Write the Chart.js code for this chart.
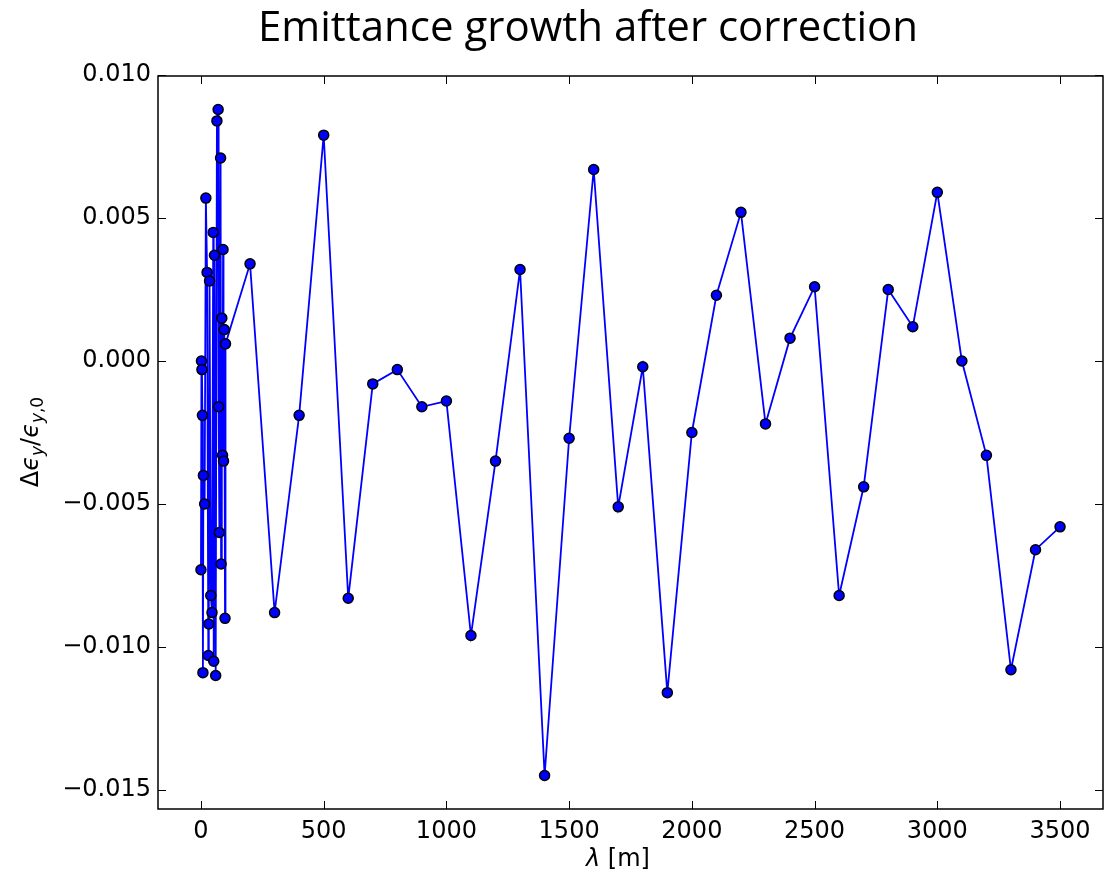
<!DOCTYPE html>
<html>
<head>
<meta charset="utf-8">
<script src="https://cdn.jsdelivr.net/npm/chart.js@4/dist/chart.umd.min.js"></script>
<style>
  body { margin: 0; background: #fff; }
  canvas { display: block; }
</style>
</head>
<body>
<canvas id="chart" width="1115" height="876"></canvas>
<script>
// wavelength lambda [m]
const lambdaVals = [
  0, 2, 4, 6, 8, 10, 15, 20, 25, 30, 32, 35, 40, 45, 50, 52, 55, 60, 65, 70,
  72, 75, 80, 82, 85, 88, 90, 92, 95, 98, 100,
  200, 300, 400, 500, 600, 700, 800, 900, 1000, 1100, 1200, 1300, 1400, 1500,
  1600, 1700, 1800, 1900, 2000, 2100, 2200, 2300, 2400, 2500, 2600, 2700,
  2800, 2900, 3000, 3100, 3200, 3300, 3400, 3500
];
// relative emittance growth
const growthVals = [
  -0.0073, 0.0000, -0.0003, -0.0019, -0.0109, -0.0040, -0.0050, 0.0057, 0.0031,
  -0.0103, -0.0092, 0.0028, -0.0082, -0.0088, 0.0045, -0.0105, 0.0037, -0.0110,
  0.0084, 0.0088, -0.0016, -0.0060, 0.0071, -0.0071, 0.0015, -0.0033, 0.0039,
  -0.0035, 0.0011, -0.0090, 0.0006,
  0.0034, -0.0088, -0.0019, 0.0079, -0.0083, -0.0008, -0.0003, -0.0016, -0.0014,
  -0.0096, -0.0035, 0.0032, -0.0145, -0.0027, 0.0067, -0.0051, -0.0002, -0.0116,
  -0.0025, 0.0023, 0.0052, -0.0022, 0.0008, 0.0026, -0.0082, -0.0044, 0.0025,
  0.0012, 0.0059, 0.0000, -0.0033, -0.0108, -0.0066, -0.0058
];
const xTicks = [0, 500, 1000, 1500, 2000, 2500, 3000, 3500];
const yTicks = [-0.015, -0.010, -0.005, 0.000, 0.005, 0.010];

const points = lambdaVals.map((x, i) => ({x: x, y: growthVals[i]}));

const tickFont = {family: 'DejaVu Sans', size: 24};

// frame, inward ticks on all four sides, and the texts
const decor = {
  id: 'decor',
  afterDraw(chart) {
    const ctx = chart.ctx;
    const a = chart.chartArea;
    const xs = chart.scales.x, ys = chart.scales.y;
    const tl = 8;
    ctx.save();
    ctx.strokeStyle = '#000';
    ctx.lineWidth = 1;
    ctx.beginPath();
    xTicks.forEach(v => {
      const px = Math.round(xs.getPixelForValue(v)) + 0.5;
      ctx.moveTo(px, a.bottom); ctx.lineTo(px, a.bottom - tl);
      ctx.moveTo(px, a.top); ctx.lineTo(px, a.top + tl);
    });
    yTicks.forEach(v => {
      const py = Math.round(ys.getPixelForValue(v)) + 0.5;
      ctx.moveTo(a.left, py); ctx.lineTo(a.left + tl, py);
      ctx.moveTo(a.right, py); ctx.lineTo(a.right - tl, py);
    });
    ctx.stroke();
    ctx.lineWidth = 1.5;
    ctx.strokeRect(a.left, a.top, a.right - a.left, a.bottom - a.top);

    ctx.fillStyle = '#000';
    // title
    ctx.font = '42px "Open Sans", sans-serif';
    ctx.textAlign = 'center';
    ctx.textBaseline = 'alphabetic';
    ctx.fillText('Emittance growth after correction', 588, 41);

    // x axis title
    const xParts = [
      {t: 'λ', f: 'italic 24px "DejaVu Sans"', dy: 0},
      {t: ' [m]', f: '24px "DejaVu Sans"', dy: 0}
    ];
    drawParts(ctx, xParts, 618, 866);

    // y axis title
    ctx.translate(38, 442);
    ctx.rotate(-Math.PI / 2);
    const yParts = [
      {t: 'Δ', f: '24px "DejaVu Sans"', dy: 0},
      {t: 'ϵ', f: 'italic 24px "DejaVu Sans"', dy: 0},
      {t: 'y', f: 'italic 17px "DejaVu Sans"', dy: 5},
      {t: '/', f: '24px "DejaVu Sans"', dy: 0},
      {t: 'ϵ', f: 'italic 24px "DejaVu Sans"', dy: 0},
      {t: 'y', f: 'italic 17px "DejaVu Sans"', dy: 5},
      {t: ',0', f: '17px "DejaVu Sans"', dy: 5}
    ];
    drawParts(ctx, yParts, 0, 0);
    ctx.restore();
  }
};

function drawParts(ctx, parts, cx, by) {
  let w = 0;
  parts.forEach(p => { ctx.font = p.f; w += ctx.measureText(p.t).width; });
  let x = cx - w / 2;
  ctx.textAlign = 'left';
  ctx.textBaseline = 'alphabetic';
  parts.forEach(p => {
    ctx.font = p.f;
    ctx.fillText(p.t, x, by + p.dy);
    x += ctx.measureText(p.t).width;
  });
}

new Chart(document.getElementById('chart'), {
  type: 'scatter',
  data: {
    datasets: [{
      data: points,
      showLine: true,
      borderColor: '#0000ff',
      borderWidth: 1.8,
      pointRadius: 5,
      pointBorderWidth: 1.5,
      pointBorderColor: '#000',
      pointBackgroundColor: '#0000ff',
      lineTension: 0
    }]
  },
  options: {
    responsive: false,
    animation: false,
    layout: {padding: {top: 76, right: 12, left: 0, bottom: 0}},
    plugins: {
      legend: {display: false},
      title: {display: false},
      tooltip: {enabled: false}
    },
    scales: {
      x: {
        type: 'linear',
        min: -175,
        max: 3675,
        afterBuildTicks: s => { s.ticks = xTicks.map(v => ({value: v})); },
        afterFit: s => { s.height = 67; },
        grid: {display: false, drawTicks: false},
        border: {display: false},
        ticks: {font: tickFont, color: '#000', padding: 8, maxRotation: 0, autoSkip: false,
                callback: v => String(v)}
      },
      y: {
        type: 'linear',
        min: -0.01567,
        max: 0.00997,
        afterBuildTicks: s => { s.ticks = yTicks.map(v => ({value: v})); },
        afterFit: s => { s.width = 158; },
        grid: {display: false, drawTicks: false},
        border: {display: false},
        ticks: {font: tickFont, color: '#000', padding: 7, autoSkip: false,
                callback: v => (v < 0 ? '\u2212' : '') + Math.abs(v).toFixed(3)}
      }
    }
  },
  plugins: [decor]
});
</script>
</body>
</html>
